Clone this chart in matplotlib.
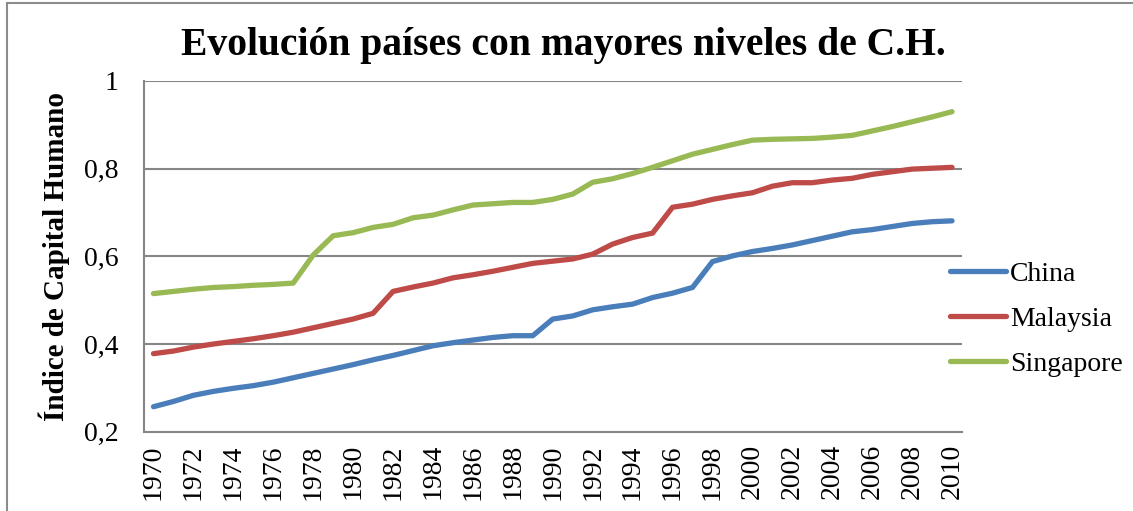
import matplotlib
matplotlib.use("Agg")
import matplotlib.pyplot as plt
from matplotlib.patches import Rectangle

years = list(range(1970, 2011))

china = [0.257, 0.269, 0.283, 0.292, 0.299, 0.305, 0.313, 0.323, 0.333, 0.343,
         0.353, 0.364, 0.374, 0.385, 0.396, 0.403, 0.409, 0.415, 0.419, 0.419,
         0.457, 0.464, 0.478, 0.485, 0.491, 0.506, 0.516, 0.529, 0.588, 0.601,
         0.611, 0.618, 0.626, 0.636, 0.646, 0.656, 0.661, 0.668, 0.675, 0.679,
         0.681]

malaysia = [0.378, 0.384, 0.393, 0.400, 0.406, 0.412, 0.419, 0.427, 0.437, 0.447,
            0.457, 0.470, 0.520, 0.530, 0.539, 0.551, 0.558, 0.566, 0.575, 0.584,
            0.589, 0.594, 0.605, 0.628, 0.643, 0.653, 0.712, 0.719, 0.730, 0.738,
            0.745, 0.760, 0.768, 0.768, 0.774, 0.778, 0.787, 0.793, 0.799, 0.801,
            0.803]

singapore = [0.515, 0.520, 0.525, 0.529, 0.531, 0.534, 0.536, 0.539, 0.603, 0.647,
             0.654, 0.666, 0.673, 0.688, 0.694, 0.706, 0.717, 0.720, 0.723, 0.723,
             0.730, 0.742, 0.769, 0.777, 0.789, 0.803, 0.818, 0.833, 0.844, 0.855,
             0.865, 0.867, 0.868, 0.869, 0.872, 0.876, 0.886, 0.896, 0.907, 0.918,
             0.930]

series = ["China", "Malaysia", "Singapore"]
colors = ["#4A7EBB", "#BE4B48", "#98B954"]
yticks = [0.2, 0.4, 0.6, 0.8, 1.0]
ytick_labels = ["0,2", "0,4", "0,6", "0,8", "1"]

plt.rcParams["font.family"] = ["Liberation Serif", "DejaVu Serif"]

W, H = 1133, 511
fig = plt.figure(figsize=(W / 100, H / 100), dpi=100)
ax = fig.add_axes([143.5 / W, 1 - 431.7 / H, (962 - 143.5) / W, (431.7 - 81) / H])

# chart border (Excel style)
fig.patches.append(Rectangle((7 / W, -0.05), 1.2, 1 - 3 / H + 0.05,
                             transform=fig.transFigure, fill=False,
                             edgecolor="#8C8C8C", linewidth=1.5))

for vals, name, c in zip([china, malaysia, singapore], series, colors):
    ax.plot(years, vals, color=c, linewidth=3.8, label=name, solid_capstyle="round")

ax.set_xlim(1969.5, 2010.5)
ax.set_ylim(0.2, 1.0)
ax.set_yticks(yticks)
ax.set_yticklabels(ytick_labels)
ax.set_xticks(years[::2])
ax.set_xticklabels([str(y) for y in years[::2]], rotation=90)
ax.tick_params(axis="both", length=0, labelsize=20)
ax.tick_params(axis="y", pad=18)
ax.tick_params(axis="x", pad=9)
ax.grid(axis="y", color="#868686", linewidth=1.5)
ax.set_axisbelow(True)

for s in ["top", "right"]:
    ax.spines[s].set_visible(False)
for s in ["left", "bottom"]:
    ax.spines[s].set_color("#868686")
    ax.spines[s].set_linewidth(1.5)

ax.set_ylabel("Índice de Capital Humano", fontsize=21, fontweight="bold")
ax.yaxis.set_label_coords(-0.09, 0.5)

fig.text(0.497, 1 - 45 / H, "Evolución países con mayores niveles de C.H.",
         fontsize=28.5, fontweight="bold", ha="center", va="center")

ax.legend(loc="center left", bbox_to_anchor=(950 / W, 1 - 319 / H),
          bbox_transform=fig.transFigure, frameon=False, fontsize=20,
          handlelength=2.0, handletextpad=0.15, labelspacing=0.7,
          borderpad=0, borderaxespad=0)

fig.savefig("out.png", dpi=100)
